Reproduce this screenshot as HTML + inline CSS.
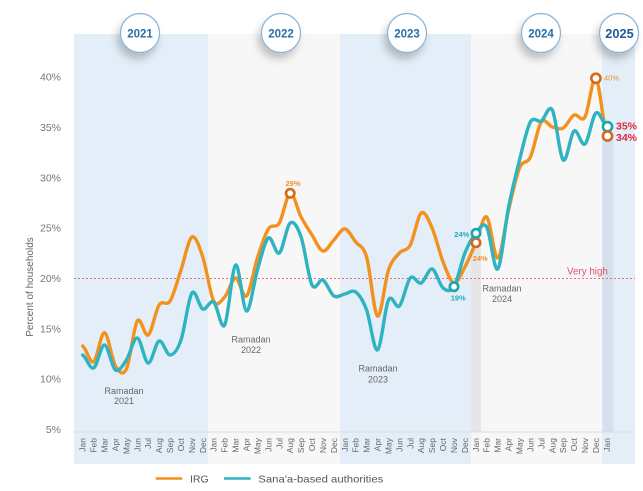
<!DOCTYPE html>
<html>
<head>
<meta charset="utf-8">
<style>
  html, body { margin: 0; padding: 0; background: #ffffff; }
  body { width: 643px; height: 491px; overflow: hidden; }
  svg { display: block; font-family: "Liberation Sans", "DejaVu Sans", sans-serif; }
</style>
</head>
<body>
<svg width="643" height="491" viewBox="0 0 643 491" xmlns="http://www.w3.org/2000/svg">
  <defs>
    <filter id="sh" x="-60%" y="-60%" width="220%" height="240%">
      <feDropShadow dx="-3" dy="6" stdDeviation="4" flood-color="#000" flood-opacity="0.22"/>
    </filter>
  </defs>

  <!-- year bands -->
  <rect x="74" y="34" width="134" height="430" fill="#e3eef8"/>
  <rect x="208" y="34" width="132" height="430" fill="#f7f7f7"/>
  <rect x="340" y="34" width="131" height="430" fill="#e3eef8"/>
  <rect x="471" y="34" width="131" height="430" fill="#f7f7f7"/>
  <rect x="602" y="34" width="33" height="430" fill="#e3eef8"/>

  <!-- highlight strips -->
  <rect x="471" y="243" width="10" height="189" fill="#e6e6e6"/>
  <rect x="602.5" y="135" width="10.8" height="297" fill="#d4e0eb"/>

  <!-- axis line -->
  <line x1="74" y1="432" x2="635" y2="432" stroke="#d3dde6" stroke-width="1"/>

  <!-- very high threshold -->
  <line x1="74" y1="278.5" x2="635" y2="278.5" stroke="#e8707e" stroke-width="1" stroke-dasharray="2,2"/>
  <text x="567" y="274.5" font-size="9.8" fill="#e0506a">Very high</text>

  <!-- y axis labels -->
  <g font-size="10.5" fill="#777" text-anchor="end">
    <text x="61" y="80.5">40%</text>
    <text x="61" y="131">35%</text>
    <text x="61" y="181.3">30%</text>
    <text x="61" y="231.6">25%</text>
    <text x="61" y="282">20%</text>
    <text x="61" y="332.3">15%</text>
    <text x="61" y="382.6">10%</text>
    <text x="61" y="433">5%</text>
  </g>
  <text transform="translate(33,287) rotate(-90)" font-size="10" fill="#666" text-anchor="middle">Percent of households</text>

  <!-- Ramadan labels -->
  <g font-size="9" fill="#666" text-anchor="middle">
    <text x="124" y="394">Ramadan</text>
    <text x="124" y="404">2021</text>
    <text x="251" y="342.5">Ramadan</text>
    <text x="251" y="353">2022</text>
    <text x="378" y="371.5">Ramadan</text>
    <text x="378" y="382.5">2023</text>
    <text x="502" y="291.5">Ramadan</text>
    <text x="502" y="302">2024</text>
  </g>

  <!-- IRG (orange) -->
  <path fill="none" stroke="#f3911f" stroke-width="3.4" stroke-linejoin="round" stroke-linecap="round"
    d="M82.7,346 C86.3,348.6 90.0,363.9 93.6,361.7 S100.9,332.0 104.5,332.7 S111.9,360.0 115.5,366 S122.8,376.5 126.4,369 S133.7,326.7 137.3,321 S144.6,337.7 148.2,335 S155.5,310.7 159.1,305 S166.5,306.8 170.1,301 S177.4,280.7 181.0,270 S188.3,239.2 191.9,237 S199.2,246.3 202.8,257 S210.1,294.3 213.7,301 S221.1,300.8 224.7,297 S232.0,278.2 235.6,278 S242.9,299.3 246.5,296 S253.8,269.2 257.4,258 S264.7,234.8 268.3,229 S275.7,229.0 279.3,223 S286.6,194.3 290.2,193.3 S297.5,210.1 301.1,217 S308.4,229.3 312.0,235 S319.3,250.2 322.9,251 S330.3,243.7 333.9,240 S341.2,228.7 344.8,229 S352.1,237.3 355.7,242 S363.0,244.7 366.6,257 S373.9,313.8 377.5,316 S384.9,280.5 388.5,270 S395.8,257.2 399.4,253 S406.7,251.7 410.3,245 S417.6,215.8 421.2,213 S428.5,219.8 432.1,228 S439.5,252.8 443.1,262 S450.4,282.2 454.0,283 S461.3,273.7 464.9,267 S472.2,251.0 475.8,242.7 S483.1,214.5 486.7,217 S494.1,259.2 497.7,258 S505.0,225 508.6,210 S515.9,176.8 519.5,168 S526.8,164.7 530.4,157 S537.7,127 541.3,122 S548.7,126 552.3,127 S559.6,130 563.2,128 S570.5,116.8 574.1,115 S581.4,123.1 585.0,117 S592.3,75.1 595.9,78.3 S603.3,126.4 606.9,136"/>

  <!-- Sana'a-based authorities (teal) -->
  <path fill="none" stroke="#2db3c1" stroke-width="3.4" stroke-linejoin="round" stroke-linecap="round"
    d="M82.7,355 C86.3,357.2 90.0,369.7 93.6,368 S100.9,344.7 104.5,345 S111.9,367.5 115.5,370 S122.8,365.3 126.4,360 S133.7,337.5 137.3,338 S144.6,362.5 148.2,363 S155.5,342.3 159.1,341 S166.5,355.2 170.1,355 S177.4,350.3 181.0,340 S188.3,298.2 191.9,293 S199.2,307.5 202.8,309 S210.1,299.3 213.7,302 S221.1,331.2 224.7,325 S232.0,267.3 235.6,265 S242.9,310.2 246.5,311 S253.8,282.2 257.4,270 S264.7,240.8 268.3,238 S275.7,255.5 279.3,253 S286.6,225.7 290.2,223 S297.5,226.7 301.1,237 S308.4,277.8 312.0,285 S319.3,278.2 322.9,280 S330.3,293.7 333.9,296 S341.2,294.7 344.8,294 S352.1,289.3 355.7,292 S363.0,300.3 366.6,310 S373.9,351.7 377.5,350 S384.9,307.3 388.5,300 S395.8,309.7 399.4,306 S406.7,281.8 410.3,278 S417.6,284.5 421.2,283 S428.5,268.2 432.1,269 S439.5,285.1 443.1,288 S450.4,292.5 454.0,286.7 S461.3,261.9 464.9,253 S472.2,237.6 475.8,233.3 S483.1,221.1 486.7,227 S494.1,272.3 497.7,269 S505.0,225.2 508.6,207 S515.9,174.2 519.5,160 S526.8,128.5 530.4,122 S537.7,123 541.3,121 S548.7,103.5 552.3,110 S559.6,156.5 563.2,160 S570.5,133.7 574.1,131 S581.4,147 585.0,144 S592.3,115.9 595.9,113 S603.3,124.4 606.9,126.7"/>

  <!-- markers -->
  <g fill="#ffffff" stroke-width="2.6">
    <circle cx="290.2" cy="193.3" r="4.2" stroke="#d4691d"/>
    <circle cx="454" cy="286.7" r="4.2" stroke="#1ca4b4"/>
    <circle cx="476" cy="242.7" r="4.2" stroke="#d4691d"/>
    <circle cx="476" cy="233.3" r="4.2" stroke="#1ca4b4"/>
    <circle cx="595.9" cy="78.3" r="4.6" stroke="#d4691d"/>
    <circle cx="607.5" cy="126.7" r="4.6" stroke="#1ca4b4"/>
    <circle cx="607.5" cy="136" r="4.6" stroke="#d4691d"/>
  </g>

  <!-- value labels -->
  <g font-size="7.5" font-weight="bold">
    <text x="293" y="186" fill="#f0902a" text-anchor="middle">29%</text>
    <text x="604" y="80.5" fill="#f0902a" font-weight="normal">40%</text>
    <text x="454.3" y="237" fill="#24a9b8">24%</text>
    <text x="472.7" y="261" fill="#f0902a">24%</text>
    <text x="450.7" y="300.5" fill="#24a9b8">19%</text>
  </g>
  <g font-size="10.5" font-weight="bold" fill="#e3263d">
    <text x="616" y="129.5">35%</text>
    <text x="616" y="141">34%</text>
  </g>

  <!-- month labels -->
  <g font-size="8.5" fill="#666" text-anchor="end">
    <text transform="translate(85.7,438) rotate(-90)">Jan</text>
    <text transform="translate(96.6,438) rotate(-90)">Feb</text>
    <text transform="translate(107.5,438) rotate(-90)">Mar</text>
    <text transform="translate(118.5,438) rotate(-90)">Apr</text>
    <text transform="translate(129.4,438) rotate(-90)">May</text>
    <text transform="translate(140.3,438) rotate(-90)">Jun</text>
    <text transform="translate(151.2,438) rotate(-90)">Jul</text>
    <text transform="translate(162.1,438) rotate(-90)">Aug</text>
    <text transform="translate(173.1,438) rotate(-90)">Sep</text>
    <text transform="translate(184.0,438) rotate(-90)">Oct</text>
    <text transform="translate(194.9,438) rotate(-90)">Nov</text>
    <text transform="translate(205.8,438) rotate(-90)">Dec</text>
    <text transform="translate(216.7,438) rotate(-90)">Jan</text>
    <text transform="translate(227.7,438) rotate(-90)">Feb</text>
    <text transform="translate(238.6,438) rotate(-90)">Mar</text>
    <text transform="translate(249.5,438) rotate(-90)">Apr</text>
    <text transform="translate(260.4,438) rotate(-90)">May</text>
    <text transform="translate(271.3,438) rotate(-90)">Jun</text>
    <text transform="translate(282.3,438) rotate(-90)">Jul</text>
    <text transform="translate(293.2,438) rotate(-90)">Aug</text>
    <text transform="translate(304.1,438) rotate(-90)">Sep</text>
    <text transform="translate(315.0,438) rotate(-90)">Oct</text>
    <text transform="translate(325.9,438) rotate(-90)">Nov</text>
    <text transform="translate(336.9,438) rotate(-90)">Dec</text>
    <text transform="translate(347.8,438) rotate(-90)">Jan</text>
    <text transform="translate(358.7,438) rotate(-90)">Feb</text>
    <text transform="translate(369.6,438) rotate(-90)">Mar</text>
    <text transform="translate(380.5,438) rotate(-90)">Apr</text>
    <text transform="translate(391.5,438) rotate(-90)">May</text>
    <text transform="translate(402.4,438) rotate(-90)">Jun</text>
    <text transform="translate(413.3,438) rotate(-90)">Jul</text>
    <text transform="translate(424.2,438) rotate(-90)">Aug</text>
    <text transform="translate(435.1,438) rotate(-90)">Sep</text>
    <text transform="translate(446.1,438) rotate(-90)">Oct</text>
    <text transform="translate(457.0,438) rotate(-90)">Nov</text>
    <text transform="translate(467.9,438) rotate(-90)">Dec</text>
    <text transform="translate(478.8,438) rotate(-90)">Jan</text>
    <text transform="translate(489.7,438) rotate(-90)">Feb</text>
    <text transform="translate(500.7,438) rotate(-90)">Mar</text>
    <text transform="translate(511.6,438) rotate(-90)">Apr</text>
    <text transform="translate(522.5,438) rotate(-90)">May</text>
    <text transform="translate(533.4,438) rotate(-90)">Jun</text>
    <text transform="translate(544.3,438) rotate(-90)">Jul</text>
    <text transform="translate(555.3,438) rotate(-90)">Aug</text>
    <text transform="translate(566.2,438) rotate(-90)">Sep</text>
    <text transform="translate(577.1,438) rotate(-90)">Oct</text>
    <text transform="translate(588.0,438) rotate(-90)">Nov</text>
    <text transform="translate(598.9,438) rotate(-90)">Dec</text>
    <text transform="translate(609.9,438) rotate(-90)">Jan</text>
  </g>

  <!-- year circles -->
  <g stroke="#86b4da" stroke-width="1.2" fill="#ffffff">
    <circle cx="140" cy="33" r="19.5" filter="url(#sh)"/>
    <circle cx="281" cy="33" r="19.5" filter="url(#sh)"/>
    <circle cx="407" cy="33" r="19.5" filter="url(#sh)"/>
    <circle cx="541" cy="33" r="19.5" filter="url(#sh)"/>
    <circle cx="619" cy="33" r="19.5" filter="url(#sh)"/>
  </g>
  <g font-size="11.5" font-weight="bold" fill="#2a6ea8" text-anchor="middle">
    <text x="140" y="37.5">2021</text>
    <text x="281" y="37.5">2022</text>
    <text x="407" y="37.5">2023</text>
    <text x="541" y="37.5">2024</text>
    <text x="619.5" y="37.8" font-size="12.8" fill="#1a5c9c">2025</text>
  </g>

  <!-- legend -->
  <line x1="155.7" y1="478.5" x2="182.3" y2="478.5" stroke="#f3911f" stroke-width="2.6"/>
  <text x="190" y="482.5" font-size="10.5" fill="#555">IRG</text>
  <line x1="224" y1="478.5" x2="250.7" y2="478.5" stroke="#2db3c1" stroke-width="2.6"/>
  <text x="258.3" y="482.5" font-size="10.5" fill="#555" textLength="125" lengthAdjust="spacingAndGlyphs">Sana'a-based authorities</text>
</svg>
</body>
</html>
